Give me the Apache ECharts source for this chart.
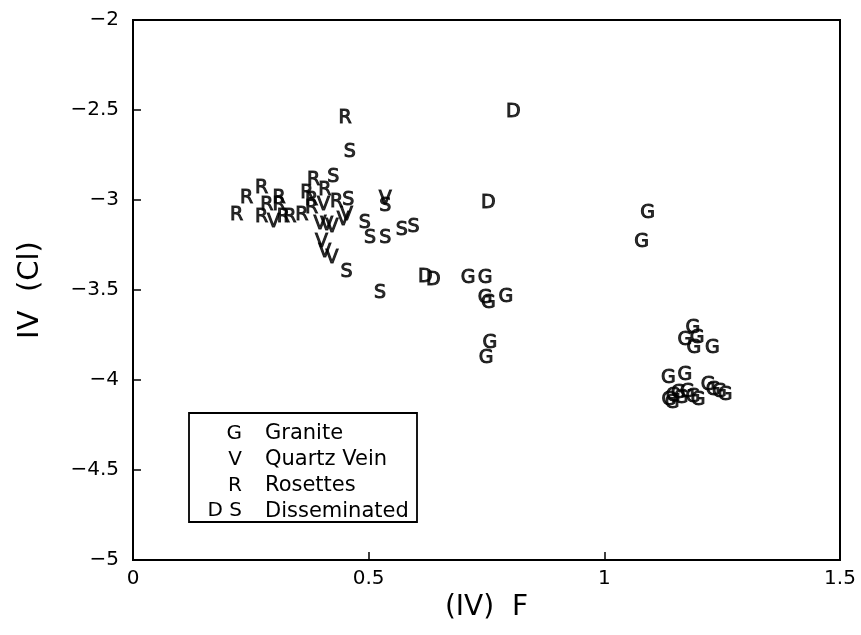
<!DOCTYPE html>
<html>
<head>
<meta charset="utf-8">
<script src="https://cdn.jsdelivr.net/npm/echarts@6/dist/echarts.min.js"></script>
<style>
  html, body { margin: 0; padding: 0; background: #fff; }
  #chart { width: 861px; height: 635px; }
</style>
</head>
<body>
<div id="chart"></div>
<script>
// Axis ticks
var xTicks = [0, 0.5, 1, 1.5];
var yTicks = [-5, -4.5, -4, -3.5, -3, -2.5, -2];

// Samples as [(IV) F, IV (Cl)] pairs, one list per sample type
var granite = [
  [1.092, -3.074], [1.079, -3.232],
  [0.711, -3.435], [0.747, -3.435], [0.747, -3.546], [0.754, -3.574], [0.791, -3.537],
  [0.757, -3.796], [0.749, -3.879],
  [1.188, -3.711], [1.171, -3.778], [1.197, -3.767], [1.190, -3.822], [1.229, -3.822],
  [1.136, -3.991], [1.171, -3.972],
  [1.137, -4.111], [1.146, -4.089], [1.157, -4.072], [1.144, -4.128], [1.163, -4.100],
  [1.176, -4.067], [1.188, -4.094], [1.199, -4.111],
  [1.220, -4.028], [1.231, -4.056], [1.244, -4.067], [1.256, -4.083]
];
var quartzVein = [
  [0.298, -3.121], [0.404, -3.028], [0.397, -3.133], [0.411, -3.139], [0.422, -3.148],
  [0.400, -3.232], [0.407, -3.287], [0.422, -3.324], [0.453, -3.083], [0.446, -3.111],
  [0.535, -2.994]
];
var rosettes = [
  [0.220, -3.083], [0.241, -2.991], [0.273, -2.935], [0.284, -3.028], [0.273, -3.093],
  [0.310, -2.991], [0.310, -3.028], [0.319, -3.093], [0.333, -3.093], [0.358, -3.083],
  [0.383, -2.889], [0.369, -2.963], [0.379, -3.000], [0.379, -3.046], [0.407, -2.944],
  [0.432, -3.009], [0.450, -2.546]
];
var disseminatedS = [
  [0.425, -2.871], [0.460, -2.732], [0.457, -3.000], [0.453, -3.398], [0.492, -3.129],
  [0.503, -3.213], [0.535, -3.213], [0.570, -3.167], [0.595, -3.148], [0.524, -3.518],
  [0.535, -3.033]
];
var disseminatedD = [
  [0.807, -2.509], [0.754, -3.018], [0.620, -3.426], [0.637, -3.444]
];

var legendRows = [
  { mark: 'G', name: 'Granite' },
  { mark: 'V', name: 'Quartz Vein' },
  { mark: 'R', name: 'Rosettes' },
  { mark: 'D S', name: 'Disseminated' }
];

var FONT = 'DejaVu Sans';

function letterSeries(name, letter, data) {
  return {
    name: name,
    type: 'scatter',
    data: data,
    symbol: 'circle',
    symbolSize: 1,
    itemStyle: { color: 'rgba(0,0,0,0)' },
    label: {
      show: true,
      position: 'inside',
      formatter: letter,
      color: '#000',
      textBorderColor: '#000',
      textBorderWidth: 1,
      fontFamily: FONT,
      fontSize: 19,
      fontWeight: 'normal'
    },
    emphasis: { disabled: true },
    silent: true
  };
}

function fmtMinus(v) {
  return String(v).replace('-', '\u2212');
}

// Legend box drawn as graphics
var legendGraphics = [{
  type: 'rect',
  shape: { x: 189, y: 413, width: 228, height: 109 },
  style: { fill: 'none', stroke: '#000', lineWidth: 1.8 }
}];
legendRows.forEach(function (row, i) {
  var cy = 434 + i * 25.7;
  legendGraphics.push({
    type: 'text',
    style: {
      text: row.mark, x: 242, y: cy, align: 'right', verticalAlign: 'middle',
      font: '20px "' + FONT + '"', fill: '#000'
    }
  });
  legendGraphics.push({
    type: 'text',
    style: {
      text: row.name, x: 265, y: cy, align: 'left', verticalAlign: 'middle',
      font: '21px "' + FONT + '"', fill: '#000'
    }
  });
});

var chart = echarts.init(document.getElementById('chart'), null, { renderer: 'canvas' });
chart.setOption({
  animation: false,
  backgroundColor: '#fff',
  grid: {
    left: 133, top: 20, right: 21, bottom: 75,
    show: true, borderColor: '#000', borderWidth: 2, backgroundColor: 'transparent'
  },
  xAxis: {
    type: 'value',
    min: xTicks[0], max: xTicks[xTicks.length - 1], interval: 0.5,
    name: '(IV)  F',
    nameLocation: 'middle',
    nameGap: 34,
    nameTextStyle: { fontFamily: FONT, fontSize: 28, color: '#000' },
    axisLine: { show: true, lineStyle: { color: '#000', width: 2 } },
    axisTick: { show: true, inside: true, length: 8, lineStyle: { color: '#000', width: 1.5 } },
    axisLabel: {
      fontFamily: FONT, fontSize: 20, color: '#000', margin: 9,
      formatter: function (v) { return fmtMinus(v); }
    },
    splitLine: { show: false }
  },
  yAxis: {
    type: 'value',
    min: yTicks[0], max: yTicks[yTicks.length - 1], interval: 0.5,
    name: 'IV  (Cl)',
    nameLocation: 'middle',
    nameGap: 88,
    nameRotate: 90,
    nameTextStyle: { fontFamily: FONT, fontSize: 29, color: '#000' },
    axisLine: { show: true, lineStyle: { color: '#000', width: 2 } },
    axisTick: { show: true, inside: true, length: 8, lineStyle: { color: '#000', width: 1.5 } },
    axisLabel: {
      fontFamily: FONT, fontSize: 20, color: '#000', margin: 14,
      formatter: function (v) { return fmtMinus(v); }
    },
    splitLine: { show: false }
  },
  series: [
    letterSeries('Granite', 'G', granite),
    letterSeries('Quartz Vein', 'V', quartzVein),
    letterSeries('Rosettes', 'R', rosettes),
    letterSeries('Disseminated S', 'S', disseminatedS),
    letterSeries('Disseminated D', 'D', disseminatedD)
  ],
  graphic: legendGraphics
});
</script>
</body>
</html>
